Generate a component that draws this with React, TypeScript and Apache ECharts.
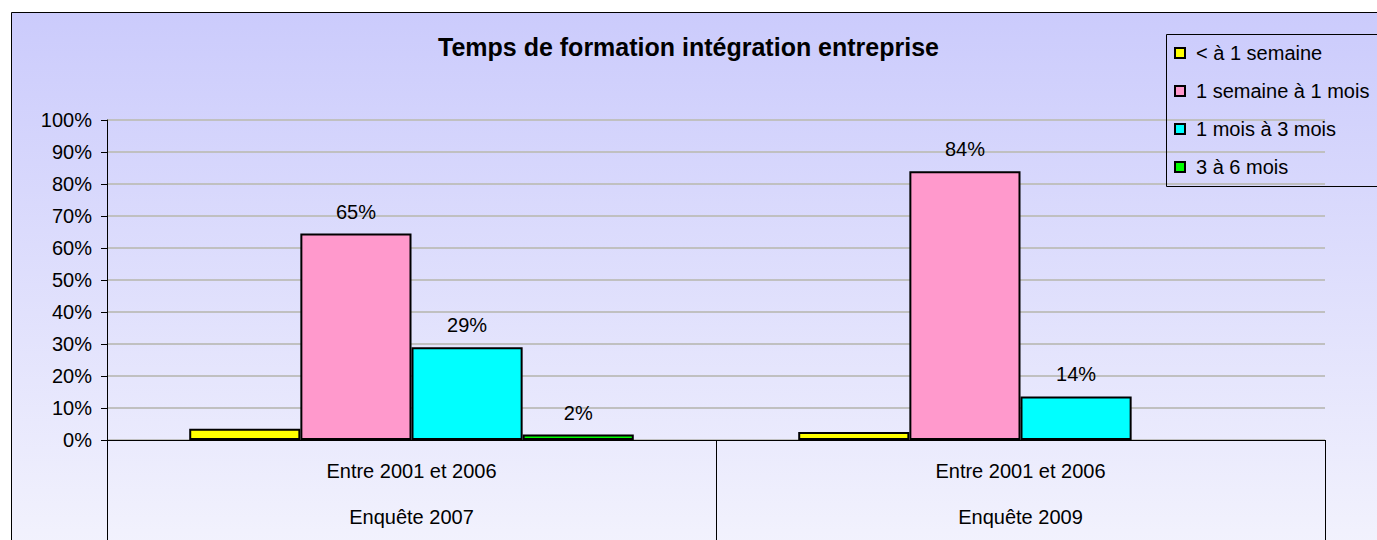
import React, { useEffect, useRef } from "react";
import * as echarts from "echarts";

const categories = ["Entre 2001 et 2006\nEnquête 2007", "Entre 2001 et 2006\nEnquête 2009"];
const seriesNames = ["< à 1 semaine", "1 semaine à 1 mois", "1 mois à 3 mois", "3 à 6 mois"];
const lessThanWeek = [3.5, 2.5];
const weekToMonth = [64.5, 84];
const monthToThree = [29, 13.6];
const threeToSix = [1.7, null];
const yTicks = [0, 10, 20, 30, 40, 50, 60, 70, 80, 90, 100];

const FONT = "'Liberation Sans', Arial, sans-serif";
const colors = ["#ffff00", "#ff99cc", "#00ffff", "#00ff00"];

export default function App() {
  const ref = useRef<HTMLDivElement>(null);
  useEffect(() => {
    document.body.style.margin = "0";
    document.body.style.overflow = "hidden";
    if (!ref.current) return;
    const chart = echarts.init(ref.current, null, { renderer: "svg" });
    const values = [lessThanWeek, weekToMonth, monthToThree, threeToSix];
    const series = values.map((arr, i) => ({
      name: seriesNames[i],
      type: "bar",
      data: arr.map((v) => (v == null ? "-" : v)),
      barGap: "0%",
      barCategoryGap: "27%",
      itemStyle: { color: colors[i], borderColor: "#000", borderWidth: 2 },
      label: {
        show: i > 0,
        position: "top",
        distance: 12,
        fontSize: 20,
        fontFamily: FONT,
        color: "#000",
        formatter: (p: any) =>
          typeof p.value === "number" ? Math.round(p.value) + "%" : "",
      },
      emphasis: { disabled: true },
    }));
    chart.setOption({
      animation: false,
      textStyle: { fontFamily: FONT },
      graphic: [
        {
          type: "rect",
          z: -10,
          silent: true,
          shape: { x: 11.5, y: 12.5, width: 1420, height: 560 },
          style: {
            fill: new echarts.graphic.LinearGradient(0, 0, 0, 1, [
              { offset: 0, color: "#cbcbfc" },
              { offset: 1, color: "#f4f4fd" },
            ]),
            stroke: "#000",
            lineWidth: 1,
          },
        },
        {
          type: "rect",
          z: 50,
          silent: true,
          shape: { x: 1166.5, y: 34.5, width: 300, height: 152 },
          style: { fill: "none", stroke: "#000", lineWidth: 1 },
        },
      ],
      title: {
        text: "Temps de formation intégration entreprise",
        left: "center",
        top: 29,
        textStyle: { fontSize: 25, fontWeight: "bold", color: "#000", fontFamily: FONT },
      },
      legend: {
        orient: "vertical",
        left: 1166,
        top: 34,
        padding: [9, 0, 9, 8],
        itemWidth: 10,
        itemHeight: 10,
        itemGap: 18,
        icon: "rect",
        borderWidth: 0,
        backgroundColor: "transparent",
        data: seriesNames,
        textStyle: { fontSize: 20, color: "#000", fontFamily: FONT, padding: [0, 0, 0, 6] },
      },
      grid: { left: 107, right: 52, top: 120, bottom: 94.3, containLabel: false },
      xAxis: {
        type: "category",
        data: categories,
        axisLine: { show: true, lineStyle: { color: "#000", width: 1 } },
        axisTick: { show: true, length: 110, alignWithLabel: false, lineStyle: { color: "#000", width: 1 } },
        axisLabel: {
          interval: 0,
          margin: 8,
          fontSize: 20,
          lineHeight: 46,
          color: "#000",
          fontFamily: FONT,
        },
        splitLine: { show: false },
      },
      yAxis: {
        type: "value",
        min: yTicks[0],
        max: yTicks[yTicks.length - 1],
        interval: yTicks[1] - yTicks[0],
        axisLine: { show: true, lineStyle: { color: "#000", width: 1 } },
        axisTick: { show: true, length: 6, lineStyle: { color: "#000", width: 1 } },
        axisLabel: { formatter: "{value}%", fontSize: 20, color: "#000", margin: 15, fontFamily: FONT },
        splitLine: { show: true, lineStyle: { color: "#c0c0c0", width: 2 } },
      },
      series,
    });
    return () => chart.dispose();
  }, []);
  return <div ref={ref} style={{ width: 1377, height: 540 }} />;
}
